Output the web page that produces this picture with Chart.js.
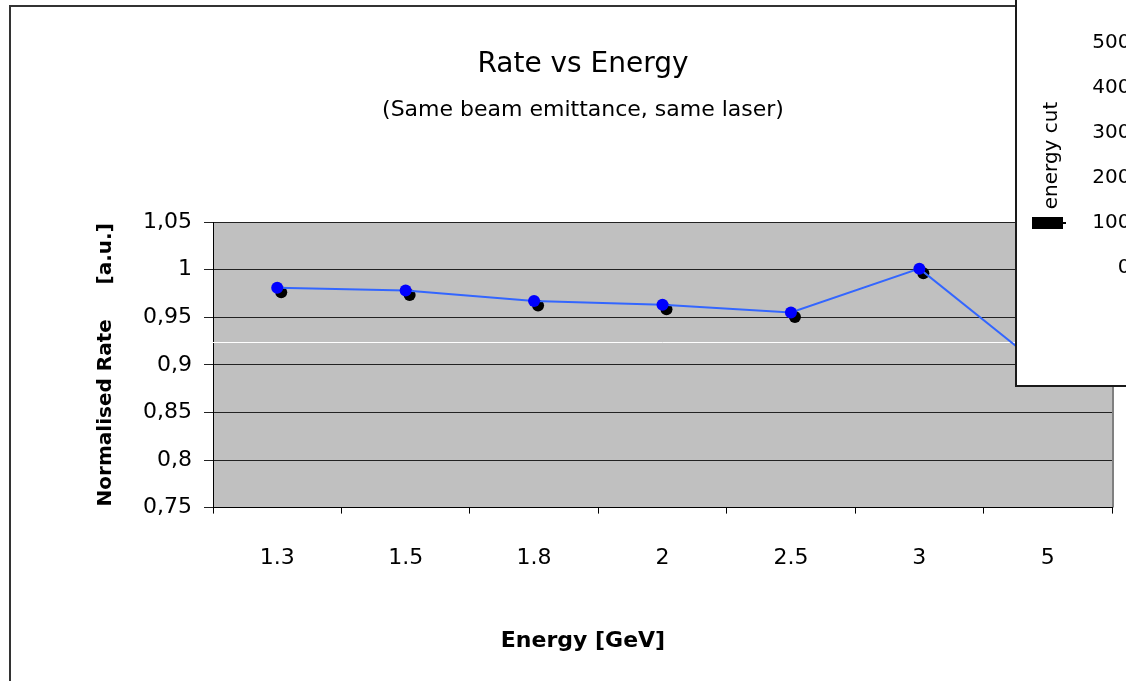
<!DOCTYPE html>
<html>
<head>
<meta charset="utf-8">
<script src="https://cdn.jsdelivr.net/npm/chart.js@4.4.1/dist/chart.umd.min.js"></script>
<style>
  html, body { margin: 0; padding: 0; background: #fff; overflow: hidden; }
  #main { position: absolute; left: 0; top: 0; width: 1166px; height: 681px; }
  #overlay {
    position: absolute; left: 1015px; top: -2px; width: 300px; height: 389px;
    box-sizing: border-box; border: 2px solid #1a1a1a; background: #fff;
  }
  #overlayInner { position: absolute; left: 0; top: 0; width: 296px; height: 385px; }
</style>
</head>
<body>
<div id="main"><canvas id="grafico"></canvas></div>
<div id="overlay"><div id="overlayInner"><canvas id="graficoCut"></canvas></div></div>
<script>
// dados
const energias = ['1.3', '1.5', '1.8', '2', '2.5', '3', '5'];
const taxas = [0.981, 0.978, 0.967, 0.963, 0.955, 1.001, 0.893];
const yTicks = ['0,75', '0,8', '0,85', '0,9', '0,95', '1', '1,05'];
const linhaBranca = 0.9235;
const cutTicks = ['0', '100', '200', '300', '400', '500'];

const fonte = 'DejaVu Sans';

const decoracao = {
    id: 'decoracao',
    beforeDraw(chart) {
        const ctx = chart.ctx;
        const a = chart.chartArea;
        ctx.save();
        ctx.strokeStyle = '#333';
        ctx.lineWidth = 2;
        ctx.strokeRect(10, 6, chart.width, chart.height);
        ctx.fillStyle = '#c0c0c0';
        ctx.fillRect(a.left, a.top, a.right - a.left, a.bottom - a.top);
        ctx.strokeStyle = '#808080';
        ctx.beginPath();
        ctx.moveTo(a.right + 1, a.top);
        ctx.lineTo(a.right + 1, a.bottom);
        ctx.stroke();
        ctx.restore();
    },
    beforeDatasetsDraw(chart) {
        const ctx = chart.ctx;
        const a = chart.chartArea;
        const y = Math.round(chart.scales.y.getPixelForValue(linhaBranca)) + 0.5;
        ctx.save();
        ctx.strokeStyle = '#fff';
        ctx.lineWidth = 1;
        ctx.beginPath();
        ctx.moveTo(a.left, y);
        ctx.lineTo(a.right, y);
        ctx.stroke();
        ctx.restore();
    },
    beforeDatasetDraw(chart, args) {
        // sombra preta dos marcadores
        if (args.index === 1) {
            chart.ctx.save();
            chart.ctx.translate(4, 4.5);
        }
    },
    afterDatasetDraw(chart, args) {
        if (args.index === 1) chart.ctx.restore();
    },
    afterDraw(chart) {
        const ctx = chart.ctx;
        ctx.save();
        ctx.font = 'bold 22px ' + fonte;
        ctx.fillStyle = '#000';
        ctx.textAlign = 'center';
        ctx.textBaseline = 'middle';
        ctx.fillText('Energy [GeV]', chart.width / 2, 641);
        ctx.restore();
    }
};

function graficoTaxa() {
    const ctx = document.getElementById('grafico');

    new Chart(ctx, {
        type: 'line',
        data: {
            labels: energias,
            datasets: [{
                label: 'Rate',
                data: taxas,
                borderColor: '#3366ff',
                borderWidth: 2,
                pointBackgroundColor: '#0000ff',
                pointBorderColor: '#0000ff',
                pointRadius: 6,
                pointBorderWidth: 0,
                tension: 0
            }, {
                label: 'sombra',
                data: taxas,
                showLine: false,
                pointBackgroundColor: '#000',
                pointBorderColor: '#000',
                pointRadius: 6,
                pointBorderWidth: 0
            }]
        },
        options: {
            responsive: true,
            maintainAspectRatio: false,
            animation: false,
            layout: { padding: { left: 0, right: 0, top: 0, bottom: 79 } },
            plugins: {
                legend: { display: false },
                tooltip: { enabled: false },
                title: {
                    display: true,
                    text: 'Rate vs Energy',
                    color: '#000',
                    font: { family: fonte, size: 28, weight: 'normal' },
                    padding: { top: 48, bottom: 0 }
                },
                subtitle: {
                    display: true,
                    text: '(Same beam emittance, same laser)',
                    color: '#000',
                    font: { family: fonte, size: 22, weight: 'normal' },
                    padding: { top: 15, bottom: 99 }
                }
            },
            scales: {
                x: {
                    offset: true,
                    grid: {
                        offset: true,
                        drawOnChartArea: false,
                        drawTicks: true,
                        tickLength: 6,
                        color: '#000'
                    },
                    border: { color: '#000', width: 1 },
                    ticks: {
                        color: '#000',
                        padding: 31,
                        maxRotation: 0,
                        font: { family: fonte, size: 22 }
                    }
                },
                y: {
                    min: 0.75,
                    max: 1.05,
                    afterFit(scale) { scale.width = 213; },
                    grid: { color: '#222', tickLength: 9, lineWidth: 1 },
                    border: { color: '#000', width: 1 },
                    ticks: {
                        stepSize: 0.05,
                        color: '#000',
                        padding: 12,
                        font: { family: fonte, size: 22 },
                        callback: (v, i) => yTicks[i]
                    },
                    title: {
                        display: true,
                        text: 'Normalised Rate     [a.u.]',
                        color: '#000',
                        font: { family: fonte, size: 20, weight: 'bold' },
                        padding: { top: 94, bottom: 0 }
                    }
                },
                // espaco a direita da area do grafico
                yDir: {
                    position: 'right',
                    afterFit(scale) { scale.width = 54; },
                    grid: { display: false, drawTicks: false },
                    border: { display: false },
                    ticks: { display: false }
                }
            }
        },
        plugins: [decoracao]
    });
}

const legendaCut = {
    id: 'legendaCut',
    afterDraw(chart) {
        const ctx = chart.ctx;
        ctx.save();
        ctx.fillStyle = '#000';
        ctx.fillRect(15, 217, 31, 12);
        ctx.fillRect(46, 222, 3, 2);
        ctx.restore();
    }
};

function graficoCut() {
    const ctx = document.getElementById('graficoCut');

    new Chart(ctx, {
        type: 'bar',
        data: {
            labels: [],
            datasets: [{ label: 'energy cut', data: [], backgroundColor: '#000' }]
        },
        options: {
            responsive: true,
            maintainAspectRatio: false,
            animation: false,
            layout: { padding: { left: 0, right: 0, top: 43, bottom: 117 } },
            plugins: { legend: { display: false }, tooltip: { enabled: false } },
            scales: {
                x: { display: false },
                y: {
                    min: 0,
                    max: 500,
                    afterFit(scale) { scale.width = 113.5; },
                    grid: { display: false, drawTicks: false },
                    border: { display: false },
                    ticks: {
                        stepSize: 100,
                        padding: 0,
                        color: '#000',
                        font: { family: fonte, size: 20 },
                        callback: (v, i) => cutTicks[i]
                    },
                    title: {
                        display: true,
                        text: 'energy cut',
                        color: '#000',
                        font: { family: fonte, size: 20 },
                        padding: { top: 23, bottom: 0 }
                    }
                }
            }
        },
        plugins: [legendaCut]
    });
}

graficoTaxa();

graficoCut();
</script>
</body>
</html>
